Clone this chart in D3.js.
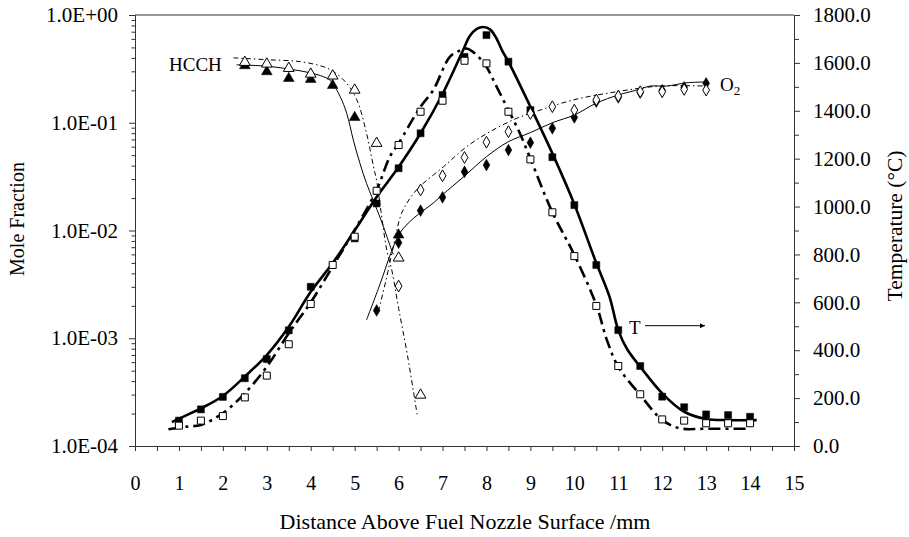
<!DOCTYPE html>
<html><head><meta charset="utf-8">
<script src="https://cdn.jsdelivr.net/npm/d3@7"></script>
<style>
html,body{margin:0;padding:0;background:#fff;}
svg{display:block;font-family:"Liberation Serif","Times New Roman",serif;}
</style></head>
<body>
<svg id="chart" width="909" height="537"></svg>
<script>
// ---------- DATA ----------
const xTickValues = d3.range(0, 15.01, 0.5);
const logMajorTicks = [1e-4, 1e-3, 1e-2, 1e-1, 1];
const tempTicks = d3.range(0, 1801, 200);
const tempMinorTicks = d3.range(100, 1800, 200);

// Temperature (right axis), measured points
const tempDist = [1,1.5,2,2.5,3,3.5,4,4.5,5,5.5,6,6.5,7,7.5,8,8.5,9,9.5,10,10.5,11,11.5,12,12.5,13,13.5,14];
const tempFilled = [106,153,205,283,363,483,665,null,867,1013,1160,1306,1466,1625,1716,1605,1403,1206,1006,756,484,334,206,162,132,129,122];
const tempOpen = [85,106,125,203,294,425,593,756,874,1066,1257,1396,1442,1609,1598,1396,1197,976,793,585,334,216,111,106,95,95,95];

// Temperature model curves
const tempSolidX = [0.84,1.0,1.5,2.0,2.5,3.0,3.5,4.0,4.5,5.0,5.5,6.0,6.5,7.0,7.47,7.62,7.78,7.93,8.08,8.22,8.36,8.5,9.0,9.5,10.0,10.5,10.8,11.0,11.2,11.5,12.0,12.5,13.0,13.5,14.15];
const tempSolidY = [100,114,157,209,290,380,498,644,764,900,1040,1165,1306,1470,1654,1712,1742,1750,1740,1705,1650,1605,1417,1222,1010,764,624,484,405,331,220,143,113,108,108];
const tempDashX = [0.76,1.18,1.5,2.0,2.5,3.0,3.5,4.0,4.5,5.0,5.5,5.8,6.0,6.5,6.79,7.17,7.4,7.55,7.7,7.85,8.0,8.23,8.5,8.76,9.0,9.5,10.0,10.5,10.74,11.0,11.5,12.0,12.4,13.0,14.0];
const tempDashY = [70,81,88,137,220,331,471,600,750,902,1069,1208,1264,1417,1487,1626,1652,1660,1645,1619,1584,1501,1403,1306,1200,976,798,589,443,331,213,109,74,72,72];

// HCCH (left axis)
const hcchFilledX = [2.5,3,3.5,4,4.5,5,6];
const hcchFilled = [0.339,0.298,0.258,0.253,0.222,0.112,0.0091];
const hcchOpenX = [2.5,3,3.5,4,4.5,5,5.5,6,6.5];
const hcchOpen = [0.364,0.351,0.320,0.283,0.272,0.201,0.0645,0.00556,0.000297];
const hcchSolidX = [2.31,3.0,3.5,4.0,4.4,4.5,4.67,4.82,4.97,5.12,5.27,5.42,5.6,5.84,5.88];
const hcchSolidY = [0.345,0.335,0.315,0.29,0.255,0.232,0.175,0.122,0.069,0.042,0.0274,0.0192,0.0125,0.0066,0.0060];
const hcchDashX = [2.24,3.0,3.76,4.3,4.52,4.82,5.05,5.27,5.43,5.5,5.6,5.73,5.85,6.0,6.2,6.43];
const hcchDashY = [0.40,0.385,0.369,0.33,0.298,0.232,0.163,0.080,0.039,0.029,0.015,0.0066,0.0042,0.0019,0.0007,0.000187];

// O2 (left axis)
const o2FilledX = [5.5,6,6.5,7,7.5,8,8.5,9,9.5,10,10.5,11,11.5,12,12.5,13];
const o2Filled = [0.00181,0.0077,0.0153,0.0203,0.0351,0.0405,0.0558,0.0653,0.0888,0.112,0.157,0.172,0.19,0.20,0.213,0.232];
const o2OpenX = [6,6.5,7,7.5,8,8.5,9,9.5,10,10.5,11,11.5,12,12.5,13];
const o2Open = [0.00305,0.0238,0.0322,0.0476,0.066,0.0826,0.122,0.141,0.131,0.163,0.177,0.194,0.194,0.204,0.201];
const o2SolidX = [5.27,5.58,5.84,6.03,6.34,6.79,7.0,7.5,8.0,8.5,9.0,9.5,10.0,10.5,11.0,11.5,11.72,12.1,12.56,13.0];
const o2SolidY = [0.00148,0.0032,0.0064,0.0095,0.013,0.018,0.0215,0.032,0.0484,0.0667,0.081,0.1,0.118,0.152,0.181,0.205,0.219,0.219,0.235,0.239];
const o2DashX = [5.54,5.73,5.88,6.07,6.3,6.5,7.02,7.55,8.08,8.69,9.22,9.98,10.96,11.95,13.0];
const o2DashY = [0.00177,0.0037,0.0071,0.0145,0.021,0.026,0.039,0.060,0.0826,0.11,0.131,0.163,0.194,0.219,0.219];

// ---------- CHART ----------
const svg = d3.select("#chart");
const pL = 135, pR = 794, pT = 15, pB = 446;
const x = d3.scaleLinear([0, 15], [pL, pR]);
const yL = d3.scaleLog([1e-4, 1], [pB, pT]);
const yR = d3.scaleLinear([0, 1800], [pB, pT]);
const axisColor = "#333";

function styleAxis(g, fs) {
  g.selectAll("path.domain").attr("stroke", axisColor).attr("stroke-width", 1);
  g.selectAll(".tick line").attr("stroke", axisColor).attr("stroke-width", 1);
  g.selectAll("text").attr("fill", "#000").style("font-size", fs + "px")
    .style("font-family", '"Liberation Serif","Times New Roman",serif');
}

// top frame line
svg.append("line").attr("x1", pL).attr("x2", pR).attr("y1", pT).attr("y2", pT)
  .attr("stroke", axisColor).attr("stroke-width", 1);

// bottom axis
const gx = svg.append("g").attr("transform", `translate(0,${pB})`)
  .call(d3.axisBottom(x).tickValues(xTickValues).tickSize(5).tickSizeOuter(0).tickPadding(25)
    .tickFormat(d => Number.isInteger(d) ? String(d) : ""));
styleAxis(gx, 20);

// left axis: major + minor
const fmtE = d => {
  const e = Math.round(Math.log10(d));
  return "1.0E" + (e < 0 ? "-" : "+") + String(Math.abs(e)).padStart(2, "0");
};
const gy = svg.append("g").attr("transform", `translate(${pL},0)`)
  .call(d3.axisLeft(yL).tickValues(logMajorTicks).tickSize(6).tickSizeOuter(0).tickPadding(11).tickFormat(fmtE));
styleAxis(gy, 21);
const minorLog = [];
[1e-4, 1e-3, 1e-2, 1e-1].forEach(b => { for (let k = 2; k <= 9; k++) minorLog.push(b * k); });
const gyMinor = svg.append("g").attr("transform", `translate(${pL},0)`)
  .call(d3.axisLeft(yL).tickValues(minorLog).tickSize(3.5).tickSizeOuter(0).tickFormat(""));
styleAxis(gyMinor, 21);

// right axis
const gr = svg.append("g").attr("transform", `translate(${pR},0)`)
  .call(d3.axisRight(yR).tickValues(tempTicks).tickSize(6).tickSizeOuter(0).tickPadding(13).tickFormat(d => d.toFixed(1)));
styleAxis(gr, 21);
const grMinor = svg.append("g").attr("transform", `translate(${pR},0)`)
  .call(d3.axisRight(yR).tickValues(tempMinorTicks).tickSize(5).tickSizeOuter(0).tickFormat(""));
styleAxis(grMinor, 21);

// axis titles
svg.append("text").attr("x", 465).attr("y", 529).attr("text-anchor", "middle")
  .style("font-size", "22px").text("Distance Above Fuel Nozzle Surface /mm");
svg.append("text").attr("transform", "translate(24,219) rotate(-90)").attr("text-anchor", "middle")
  .style("font-size", "20px").text("Mole Fraction");
svg.append("text").attr("transform", "translate(902,226) rotate(-90)").attr("text-anchor", "middle")
  .style("font-size", "21.5px").text("Temperature (\u00B0C)");

// ---------- LINES ----------
const zip = (xs, ys) => xs.map((v, i) => [v, ys[i]]);
const lineL = d3.line().x(d => x(d[0])).y(d => yL(d[1])).curve(d3.curveCatmullRom.alpha(0.5));
const lineR = d3.line().x(d => x(d[0])).y(d => yR(d[1])).curve(d3.curveCatmullRom.alpha(0.5));
const thinDash = "5,3,1.5,3";
const thickDash = "12,5,3,5";

function path(d, gen, w, dash) {
  svg.append("path").datum(d).attr("d", gen).attr("fill", "none").attr("stroke", "#000")
    .attr("stroke-width", w).attr("stroke-dasharray", dash || null).attr("stroke-linejoin", "round");
}
path(zip(hcchSolidX, hcchSolidY), lineL, 1);
path(zip(hcchDashX, hcchDashY), lineL, 1, thinDash);
path(zip(o2SolidX, o2SolidY), lineL, 1);
path(zip(o2DashX, o2DashY), lineL, 1, thinDash);
path(zip(tempSolidX, tempSolidY), lineR, 2.6);
path(zip(tempDashX, tempDashY), lineR, 2.6, thickDash);

// ---------- MARKERS ----------
const sq = d3.symbol().type(d3.symbolSquare).size(49);
const tri = d3.symbol().type(d3.symbolTriangle).size(50);
const dia = d3.symbol().type(d3.symbolDiamond).size(40);

function markers(xs, ys, yScale, sym, filled) {
  svg.append("g").selectAll("path")
    .data(xs.map((v, i) => [v, ys[i]]).filter(d => d[1] != null))
    .join("path")
    .attr("transform", d => `translate(${x(d[0])},${yScale(d[1])})`)
    .attr("d", sym)
    .attr("fill", filled ? "#000" : "#fff")
    .attr("stroke", "#000").attr("stroke-width", filled ? 0.5 : 1);
}
markers(tempDist, tempFilled, yR, sq, true);
markers(tempDist, tempOpen, yR, sq, false);
markers(hcchFilledX, hcchFilled, yL, tri, true);
markers(hcchOpenX, hcchOpen, yL, tri, false);
markers(o2FilledX, o2Filled, yL, dia, true);
markers(o2OpenX, o2Open, yL, dia, false);

// ---------- ANNOTATIONS ----------
svg.append("text").attr("x", 169).attr("y", 71).style("font-size", "19px").text("HCCH");
const o2t = svg.append("text").attr("x", 720).attr("y", 91).style("font-size", "19px");
o2t.append("tspan").text("O");
o2t.append("tspan").attr("dy", 4).style("font-size", "13px").text("2");
svg.append("text").attr("x", 629).attr("y", 334).style("font-size", "19px").text("T");
const defs = svg.append("defs");
defs.append("marker").attr("id", "arr").attr("viewBox", "0 0 10 10").attr("refX", 10).attr("refY", 5)
  .attr("markerWidth", 7).attr("markerHeight", 5).attr("markerUnits", "userSpaceOnUse").attr("orient", "auto")
  .append("path").attr("d", "M0,0L10,5L0,10Z").attr("fill", "#000");
svg.append("line").attr("x1", 645).attr("x2", 705).attr("y1", 325.7).attr("y2", 325.7)
  .attr("stroke", "#000").attr("stroke-width", 1).attr("marker-end", "url(#arr)");
</script>
</body></html>
